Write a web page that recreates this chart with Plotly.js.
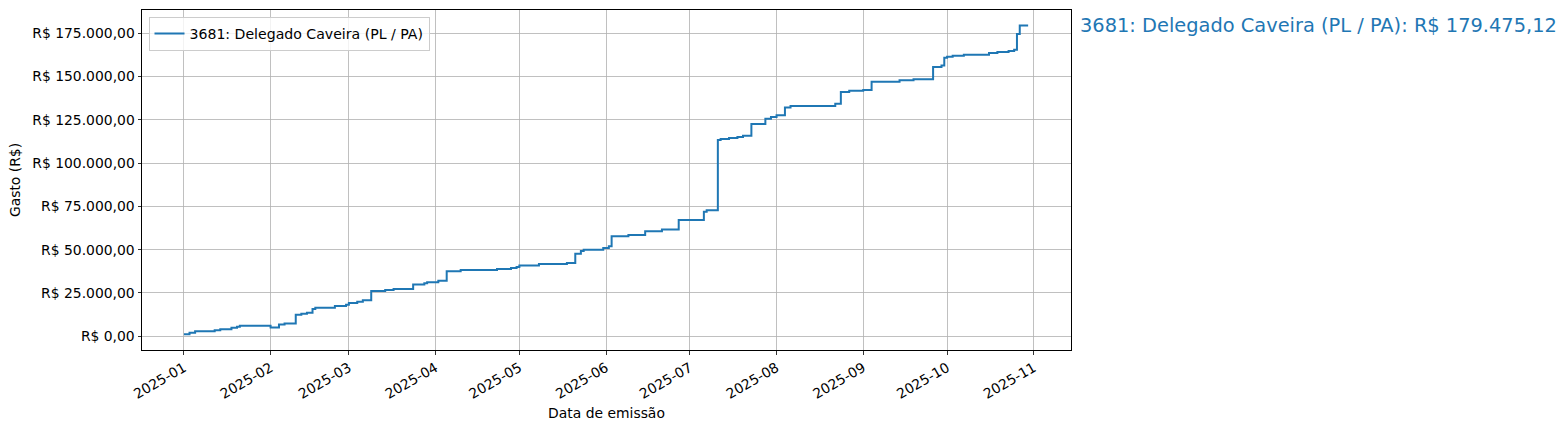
<!DOCTYPE html>
<html>
<head>
<meta charset="utf-8">
<script src="https://cdn.plot.ly/plotly-3.0.1.min.js"></script>
<style>html,body{margin:0;padding:0;background:#fff;}#chart{width:1568px;height:430px;}</style>
</head>
<body>
<div id="chart"></div>
<script>
const seriesName = '3681: Delegado Caveira (PL / PA)';
const totalSpent = 179475.12;
const dates = ['2025-01-01','2025-01-03','2025-01-05','2025-01-12','2025-01-14','2025-01-18','2025-01-20','2025-01-21',
  '2025-02-01','2025-02-04','2025-02-06','2025-02-10','2025-02-12','2025-02-14','2025-02-16','2025-02-17','2025-02-24','2025-02-28',
  '2025-03-01','2025-03-04','2025-03-06','2025-03-09','2025-03-14','2025-03-17','2025-03-24','2025-03-28','2025-03-29',
  '2025-04-02','2025-04-05','2025-04-10','2025-04-23','2025-04-28','2025-04-30',
  '2025-05-01','2025-05-08','2025-05-18','2025-05-21','2025-05-23','2025-05-24','2025-05-31',
  '2025-06-02','2025-06-03','2025-06-09','2025-06-15','2025-06-21','2025-06-27',
  '2025-07-06','2025-07-07','2025-07-11','2025-07-12','2025-07-15','2025-07-18','2025-07-20','2025-07-23','2025-07-28','2025-07-30',
  '2025-08-01','2025-08-04','2025-08-06','2025-08-22','2025-08-24','2025-08-27',
  '2025-09-01','2025-09-04','2025-09-14','2025-09-19','2025-09-26','2025-09-29','2025-09-30',
  '2025-10-01','2025-10-03','2025-10-07','2025-10-16','2025-10-19','2025-10-23','2025-10-25','2025-10-26','2025-10-27','2025-10-30'];
const cumulative = [1160,1940,2900,3490,4070,4850,5430,6000,
  5040,6780,7360,12400,13000,13570,15700,16470,17440,18200,
  19190,19960,20740,26160,26740,27330,29850,30620,31200,
  32100,37600,38180,38760,39340,39920,
  40890,41670,42250,47670,49220,50000,50970,
  51940,57750,58530,60660,61680,67080,
  71920,72690,113270,113840,114420,115000,115770,122500,125580,126540,
  127690,132110,132900,134200,141000,141700,
  142250,146900,147870,148450,155430,156400,160850,
  161430,162020,162600,163570,164150,164730,165500,174610,179475.12,179475.12];
const yTickVals = [0,25000,50000,75000,100000,125000,150000,175000];

function brl(v){
  const parts = v.toFixed(2).split('.');
  const intPart = parts[0].replace(/\B(?=(\d{3})+(?!\d))/g, '.');
  return 'R$ ' + intPart + ',' + parts[1];
}
const yTickText = yTickVals.map(brl);

const FONT = 'DejaVu Sans, Liberation Sans, sans-serif';
const trace = {
  x: dates, y: cumulative, type: 'scatter', mode: 'lines',
  line: {shape: 'hv', color: '#1f77b4', width: 2},
  name: seriesName
};
const axisCommon = {
  showline: true, mirror: true, linecolor: '#000', linewidth: 1,
  showgrid: true, gridcolor: '#b0b0b0', gridwidth: 0.8,
  ticks: 'outside', ticklen: 3.5, tickwidth: 0.8, tickcolor: '#000',
  zeroline: false,
  tickfont: {family: FONT, size: 13.9, color: '#000'}
};
const layout = {
  width: 1568, height: 430,
  margin: {l: 142, r: 497, t: 10, b: 80},
  paper_bgcolor: '#fff', plot_bgcolor: '#fff',
  font: {family: FONT, color: '#000'},
  showlegend: true,
  legend: {x: 0.007, y: 0.98, xanchor: 'left', yanchor: 'top',
    bgcolor: 'rgba(255,255,255,0.8)', bordercolor: '#cccccc', borderwidth: 1,
    font: {family: FONT, size: 14.1, color: '#000'}},
  xaxis: Object.assign({}, axisCommon, {
    type: 'date',
    range: ['2024-12-17 00:00', '2025-11-14 08:00'],
    tick0: '2025-01-01', dtick: 'M1', tickformat: '%Y-%m', tickangle: -30,
    title: {text: 'Data de emissão', font: {family: FONT, size: 13.9, color: '#000'}, standoff: 7},
    automargin: false
  }),
  yaxis: Object.assign({}, axisCommon, {
    range: [-7950, 188400],
    tickmode: 'array', tickvals: yTickVals, ticktext: yTickText,
    title: {text: 'Gasto (R$)', font: {family: FONT, size: 13.9, color: '#000'}, standoff: 8},
    automargin: false
  }),
  annotations: [{
    xref: 'paper', yref: 'y', x: 1, y: cumulative[cumulative.length - 1],
    xanchor: 'left', yanchor: 'middle', xshift: 7, showarrow: false,
    text: seriesName + ': ' + brl(totalSpent),
    font: {family: FONT, size: 19.4, color: '#1f77b4'}
  }]
};
Plotly.newPlot('chart', [trace], layout, {displayModeBar: false, staticPlot: true});
</script>
</body>
</html>
